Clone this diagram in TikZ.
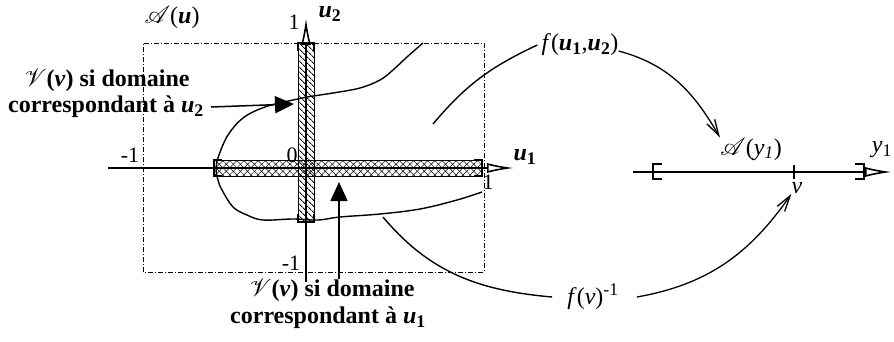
\documentclass[tikz,border=0pt]{standalone}
\usepackage{mathptmx}
\usepackage{mathrsfs}
\usepackage{fontspec}
\setmainfont{Liberation Serif}
\usetikzlibrary{arrows.meta,positioning,patterns.meta}
\newcommand{\uvar}[1]{\textbf{\textit{u}}\textsubscript{\textbf{#1}}}

\begin{document}
\begin{tikzpicture}[x=1pt,y=1pt,
  lbl/.style={font=\fontsize{24}{28}\selectfont\bfseries,inner sep=0pt},
  small/.style={font=\fontsize{22}{24}\selectfont,inner sep=0pt},
  mlbl/.style={font=\fontsize{24}{26}\selectfont,inner sep=0pt},
  axis/.style={line width=1.6pt,-{Latex[open,length=27pt,width=10pt]}},
  frame/.style={line width=0.8pt,dash pattern=on 5pt off 2pt on 1pt off 2pt},
  curve/.style={line width=1.4pt},
  endcap/.style={line width=2.2pt},
  edge/.style={line width=0.6pt},
  ptr/.style={line width=1.5pt,-{Triangle[length=19pt,width=17pt]}},
  map/.style={line width=1.3pt,-{Straight Barb[length=16pt,width=9pt]}}]

\useasboundingbox (0,0) rectangle (894,341);

% domain A(u)
\draw[frame] (143,69) rectangle (484,298);
\node[mlbl] (Au) at (172,324) {$\mathscr{A}$(\textbf{\textit{u}})};

% hatched bands
\fill[pattern={Lines[angle=45,distance=5pt,line width=0.5pt]}] (214,165) rectangle (482,181);
\fill[pattern={Lines[angle=-45,distance=5pt,line width=0.5pt]}] (214,165) rectangle (482,181);
\fill[pattern={Lines[angle=-45,distance=4pt,line width=0.9pt]}] (298,119) rectangle (314,298);
\draw[edge] (214,165) -- (482,165) (214,181) -- (482,181);
\draw[edge] (298,119) -- (298,298) (314,119) -- (314,298);
\draw[endcap] (222,165) -- (214,165) -- (214,181) -- (222,181);
\draw[endcap] (474,165) -- (482,165) -- (482,181) -- (474,181);
\draw[endcap] (298,290) -- (298,298) -- (314,298) -- (314,290);
\draw[endcap] (298,127) -- (298,119) -- (314,119) -- (314,127);

% axes u1, u2
\coordinate (u1s) at (108,173);
\coordinate (u1e) at (514,173);
\coordinate (u2s) at (306,59);
\coordinate (u2e) at (306,323);
\draw[axis] (u1s) -- (u1e);
\draw[axis] (u2s) -- (u2e);
\node[mlbl] (u1) at (525,184) {\uvar{1}};
\node[mlbl] (u2) at (330,327) {\uvar{2}};
\node[small] (mleft) at (130,186) {-1};
\node[small] (zero) at (292,186) {0};
\node[small] (pright) at (488,159) {1};
\node[small] (ptop) at (294,319) {1};
\node[small] (mbot) at (291,78) {-1};

% domain V(v)
\draw[curve] plot[smooth,tension=0.6] coordinates {(423,298) (407,284) (393,271) (380,261) (360,253)
  (333,248) (307,244) (293,241) (265,234) (243,223) (228,206) (219,186) (216,173) (218,161)
  (222,151) (233,134) (247,126) (263,121) (293,122) (318,121) (340,124) (380,127) (420,132)
  (457,141) (482,149)};

% labels V(v)
\node[lbl] (vu2a) at (107,261) {$\mathscr{V}$(\textit{v}) si domaine};
\node[lbl] (vu2b) at (106,234) {correspondant à \uvar{2}};
\node[lbl] (vu1a) at (332,51) {$\mathscr{V}$(\textit{v}) si domaine};
\node[lbl] (vu1b) at (328,23) {correspondant à \uvar{1}};
\coordinate (t2) at (294,237);
\coordinate (t1) at (339,159);
\draw[ptr] ([xshift=7pt]vu2b.east) -- (t2);
\draw[ptr] (vu1a.north -| t1) -- (t1);

% axis y1
\coordinate (y1s) at (633,169);
\coordinate (y1e) at (892,169);
\draw[axis] (y1s) -- (y1e);
\draw[endcap] (662,162) -- (653,162) -- (653,177) -- (662,177);
\draw[endcap] (855,162) -- (864,162) -- (864,177) -- (855,177);
\coordinate (vt) at (794,169);
\draw[curve] ([yshift=7pt]vt) -- ([yshift=-7pt]vt);
\node[mlbl] (v) at (797,153) {\textit{v}};
\node[mlbl] (Ay) at (751,192) {$\mathscr{A}$(\textit{y}\textsubscript{\textit{1}})};
\node[mlbl] (y1) at (882,191) {\textit{y}\textsubscript{1}};

% mappings
\node[mlbl] (fu) at (580,296) {\textit{f}(\uvar{1},\uvar{2})};
\node[mlbl] (fv) at (593,44) {\textit{f}(\textit{v})\textsuperscript{-1}};
\coordinate (din) at (433,217);
\coordinate (dlo) at (383,124);
\draw[curve] (din) to[out=50,in=205] ([xshift=-4pt]fu.west);
\draw[map] ([yshift=-6pt]fu.east) to[out=-15,in=120] (Ay.north west);
\draw[curve] ([xshift=-15pt]fv.west) to[out=175,in=-50] (dlo);
\draw[map] ([xshift=18pt]fv.east) to[out=10,in=235] (v.south west);
\end{tikzpicture}
\end{document}
